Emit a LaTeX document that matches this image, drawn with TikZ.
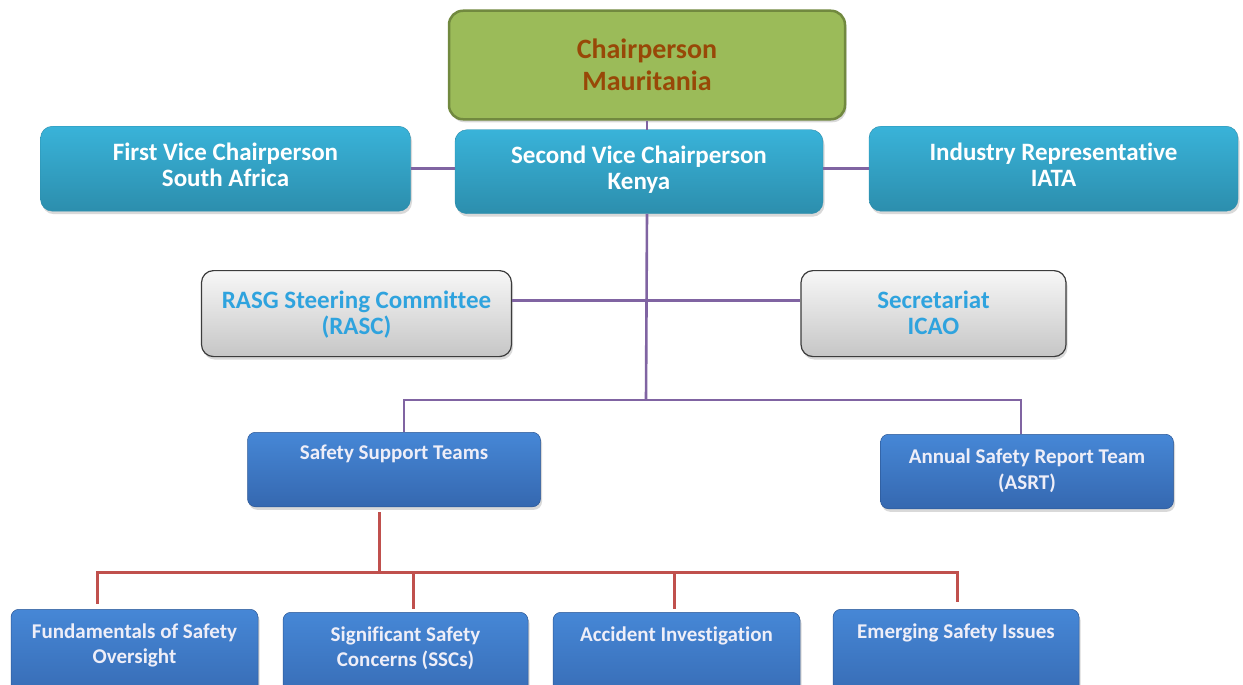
\documentclass[tikz,border=0pt]{standalone}
\usepackage{fontspec}
\setmainfont{Carlito}[Ligatures=NoCommon]
\usepackage{tikz}
\usetikzlibrary{positioning, shadows, calc}

\definecolor{chairfill}{HTML}{9BBB59}
\definecolor{chairedge}{HTML}{71893F}
\definecolor{chairtext}{HTML}{984807}
\definecolor{vicetop}{HTML}{39B3D9}
\definecolor{vicebot}{HTML}{2C8EAD}
\definecolor{greytop}{HTML}{F7F7F7}
\definecolor{greybot}{HTML}{C6C6C6}
\definecolor{greyedge}{HTML}{3C3C3C}
\definecolor{greytext}{HTML}{2FA3DE}
\definecolor{teamtop}{HTML}{4687D6}
\definecolor{teambot}{HTML}{3568B0}
\definecolor{teamtext}{HTML}{EEEEF8}
\definecolor{orgpurple}{HTML}{8064A2}
\definecolor{teamred}{HTML}{C0504D}

\tikzset{
  box/.style={rectangle, anchor=north, inner ysep=0pt, align=center,
    drop shadow={shadow xshift=1.5pt, shadow yshift=-3pt, opacity=0.3}},
  chairbox/.style={box, fill=chairfill, draw=chairedge, line width=2.5pt,
    rounded corners=14pt, text=chairtext, font=\fontsize{28}{32}\selectfont\bfseries},
  vicebox/.style={box, top color=vicetop, bottom color=vicebot, draw=vicebot,
    line width=0.4pt, rounded corners=12pt, text=white, font=\fontsize{25}{26}\selectfont\bfseries},
  greybox/.style={box, top color=greytop, bottom color=greybot, draw=greyedge,
    line width=1.2pt, rounded corners=12pt, text=greytext, font=\fontsize{25}{26}\selectfont\bfseries},
  teambox/.style={box, top color=teamtop, bottom color=teambot, draw=teambot!85!black,
    line width=0.5pt, rounded corners=8pt, text=teamtext, font=\fontsize{21}{25.5}\selectfont\bfseries},
  orgline/.style={orgpurple, line width=2.6pt},
  teamline/.style={teamred, line width=3pt}
}

\begin{document}
\begin{tikzpicture}[x=1pt, y=-1pt]
\useasboundingbox (0,0) rectangle (1243,685);
\clip (0,0) rectangle (1243,685);
% --- Board ---
\node[chairbox, minimum width=396pt, text height=79.5pt, text depth=29pt] (chair) at (647,9.5) {Chairperson\\Mauritania};
\node[vicebox, minimum width=370pt, text height=60pt, text depth=25pt] (fvc) at (225.5,126) {First Vice Chairperson\\South Africa};
\node[vicebox, minimum width=368pt, text height=59.5pt, text depth=24.5pt] (svc) at (639,129.5) {Second Vice Chairperson\\Kenya};
\node[vicebox, minimum width=369pt, text height=60pt, text depth=25pt] (ind) at (1053.5,126) {Industry Representative\\IATA};
% --- Support ---
\node[greybox, minimum width=310pt, text height=63.5pt, text depth=22.5pt] (rasc) at (356.5,270) {RASG Steering Committee\\(RASC)};
\node[greybox, minimum width=265pt, text height=63.5pt, text depth=22.5pt] (sec) at (933.5,270) {Secretariat\\ICAO};
% --- Teams ---
\node[teambox, minimum width=293pt, text height=27pt, text depth=47.5pt] (sst) at (394,432) {Safety Support Teams};
\node[teambox, minimum width=293pt, text height=55pt, text depth=19.5pt] (asrt) at (1027,434) {Annual Safety Report Team\\(ASRT)};
\node[teambox, minimum width=247pt, text height=54.5pt, text depth=44.5pt] (fso) at (134.5,609) {Fundamentals of Safety\\Oversight};
\node[teambox, minimum width=245pt, text height=54.5pt, text depth=44.5pt] (sig) at (405.5,612) {Significant Safety\\Concerns (SSCs)};
\node[teambox, minimum width=247pt, text height=29pt, text depth=70pt] (acc) at (676.5,612) {Accident Investigation};
\node[teambox, minimum width=246pt, text height=29pt, text depth=70pt] (esi) at (956,609) {Emerging Safety Issues};

\coordinate (hub) at (646,400);
\coordinate (split) at (379,572);
% --- purple links ---
\draw[orgline] (chair.south) -- (chair.south |- svc.north);
\draw[orgline] (fvc.east) -- (fvc.east -| svc.west);
\draw[orgline] (ind.west -| svc.east) -- (ind.west);
\draw[orgline] (chair.south |- svc.south) -- (hub);
\draw[orgline] ([yshift=13pt]rasc.east) -- ([yshift=13pt]sec.west);
\draw[orgline] (hub) -| ([xshift=10pt]sst.north);
\draw[orgline] (hub) -| ([xshift=-6pt]asrt.north);
% --- red links ---
\draw[teamline] ([yshift=-5pt]split |- sst.south) -- (split);
\draw[teamline] (split) -| ([xshift=-37.5pt, yshift=5pt]fso.north);
\draw[teamline] (split) -| ([xshift=7.5pt, yshift=3pt]sig.north);
\draw[teamline] (split) -| ([xshift=-2.5pt, yshift=3pt]acc.north);
\draw[teamline] (split) -| ([xshift=1pt, yshift=7pt]esi.north);
\end{tikzpicture}
\end{document}
